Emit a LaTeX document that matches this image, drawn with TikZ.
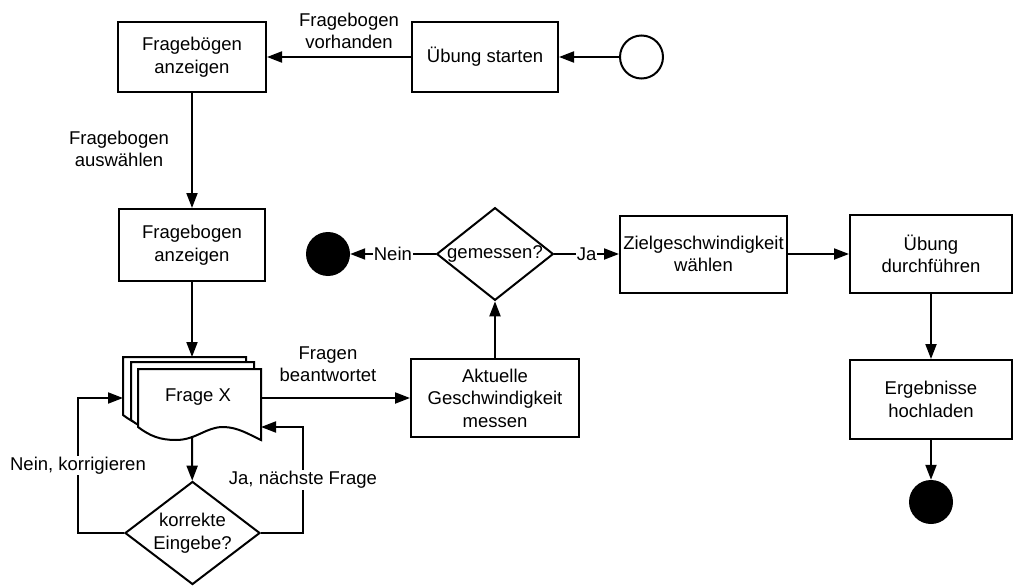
\documentclass[tikz,border=0pt]{standalone}
\usepackage{fontspec}
\setmainfont{Liberation Sans}
\usetikzlibrary{arrows.meta,shapes.geometric}
\begin{document}
\begin{tikzpicture}[x=1pt,y=-1pt,
  every node/.style={font=\fontsize{18.5}{22.5}\selectfont, align=center},
  box/.style={draw, line width=2pt, fill=white, inner sep=0pt},
  decision/.style={draw, diamond, line width=2pt, fill=white, inner sep=0pt},
  flow/.style={line width=2pt, -{Triangle[length=15pt,width=11pt]}},
  tag/.style={fill=white, inner sep=1pt},
  startdot/.style={draw, circle, line width=2pt, minimum size=43pt, inner sep=0pt},
  enddot/.style={circle, fill=black, minimum size=44pt, inner sep=0pt},
  sheet/.style={line width=2pt, fill=white}]

\fill[white] (0,0) rectangle (1013,586);
\useasboundingbox (0,0) rectangle (1013,586);

% top row
\node[box, minimum width=148pt, minimum height=70pt] (fa) at (192,57) {Fragebögen\\anzeigen};
\node[box, minimum width=146pt, minimum height=70pt] (us) at (485,57) {Übung starten};
\node[startdot] (st) at (641.5,57) {};
\node (lv) at (349,31) {Fragebogen\\vorhanden};

% questionnaire display
\node[box, minimum width=146pt, minimum height=72pt] (fb) at (192,245) {Fragebogen\\anzeigen};
\node (la) at (119,149) {Fragebogen\\auswählen};

% stack of question sheets
\foreach \dx/\dy in {123/357, 131/362, 138/369} {
  \begin{scope}[shift={(\dx,\dy)}]
    \draw[sheet] (0,0) -- (123,0) -- (123,71)
      .. controls (112,66) and (100,58) .. (85,58)
      .. controls (68,58) and (58,71) .. (38,71)
      .. controls (22,71) and (12,67) .. (0,58) -- cycle;
  \end{scope}
}
\node (fx) at (198,397) {Frage X};
\coordinate (fxtop) at (192,357);
\coordinate (fxin) at (123,398);
\coordinate (fxout) at (261,398);
\coordinate (fxback) at (261,427);
\coordinate (fxbot) at (192,436);

% answer check
\node[decision, minimum width=135pt, minimum height=103pt, aspect=1.31] (ke) at (192.5,533) {korrekte\\Eingebe?};
\coordinate (nk1) at (78,533);
\coordinate (nk2) at (78,398);
\coordinate (jn1) at (303,533);
\coordinate (jn2) at (303,427);

% speed measurement
\node[box, minimum width=168pt, minimum height=78pt] (ak) at (495,398) {Aktuelle\\Geschwindigkeit\\messen};
\node (lb) at (328,364) {Fragen\\beantwortet};
\node[decision, minimum width=115pt, minimum height=91pt, aspect=1.26] (gm) at (495,254) {gemessen?};
\node[enddot] (e1) at (328,254) {};

% exercise
\node[box, minimum width=167pt, minimum height=77pt] (zw) at (703.5,254) {Zielgeschwindigkeit\\wählen};
\node[box, minimum width=162pt, minimum height=78pt] (ud) at (931,254) {Übung\\durchführen};
\node[box, minimum width=162pt, minimum height=79pt] (er) at (931,399.5) {Ergebnisse\\hochladen};
\node[enddot] (e2) at (931,502) {};

% connectors
\draw[flow] (st) -- (us);
\draw[flow] (us) -- (fa);
\draw[flow] (fa) -- (fb);
\draw[flow] (fb) -- (fxtop);
\draw[flow] (fxout) -- (ak);
\draw[flow] (fxbot) -- (ke);
\draw[flow] (ke.west) -- (nk1) -- node[tag]{Nein, korrigieren} (nk2) -- (fxin);
\draw[flow] (ke.east) -- (jn1) -- node[tag]{Ja, nächste Frage} (jn2) -- (fxback);
\draw[flow] (ak) -- (gm);
\draw[flow] (gm) -- node[tag]{Nein} (e1);
\draw[flow] (gm) -- node[tag]{Ja} (zw);
\draw[flow] (zw) -- (ud);
\draw[flow] (ud) -- (er);
\draw[flow] (er) -- (e2);
\end{tikzpicture}
\end{document}
